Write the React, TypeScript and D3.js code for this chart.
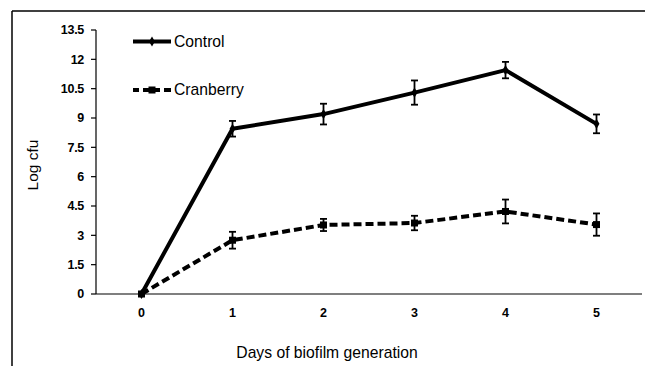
import React from "react";
import * as d3 from "d3";

const days = ["0", "1", "2", "3", "4", "5"];
const controlValues = [0, 8.45, 9.2, 10.3, 11.45, 8.7];
const controlErrors = [0, 0.4, 0.53, 0.62, 0.42, 0.48];
const cranberryValues = [0, 2.75, 3.53, 3.63, 4.22, 3.55];
const cranberryErrors = [0, 0.43, 0.31, 0.37, 0.61, 0.57];
const yTicks = [0, 1.5, 3, 4.5, 6, 7.5, 9, 10.5, 12, 13.5];
const seriesNames = ["Control", "Cranberry"];

const W = 645;
const H = 366;
const x0 = 96, x1 = 642, yTop = 30, yBottom = 294;

export default function App() {
  const x = d3.scaleBand<string>().domain(days).range([x0, x1]);
  const y = d3.scaleLinear().domain([0, 13.5]).range([yBottom, yTop]);
  const cx = (d: string) => (x(d) as number) + x.bandwidth() / 2;
  const line = d3
    .line<number>()
    .x((_, i) => cx(days[i]))
    .y((v) => y(v));

  const tickFont = "'Liberation Sans', Arial, sans-serif";

  const errorBars = (vals: number[], errs: number[], key: string) =>
    vals.map((v, i) => {
      if (errs[i] === 0) return null;
      const px = cx(days[i]);
      const ya = y(v + errs[i]);
      const yb = y(v - errs[i]);
      return (
        <g key={key + i} stroke="#000" strokeWidth={1.8}>
          <line x1={px} x2={px} y1={ya} y2={yb} />
          <line x1={px - 3.5} x2={px + 3.5} y1={ya} y2={ya} />
          <line x1={px - 3.5} x2={px + 3.5} y1={yb} y2={yb} />
        </g>
      );
    });

  return (
    <svg
      width={W}
      height={H}
      style={{ position: "absolute", left: 0, top: 0, background: "#fff" }}
    >
      {/* frame */}
      <line x1={12} x2={645} y1={11} y2={11} stroke="#000" strokeWidth={1.5} />
      <line x1={12} x2={12} y1={11} y2={366} stroke="#000" strokeWidth={1.5} />

      {/* y axis */}
      <line x1={x0} x2={x0} y1={yTop} y2={yBottom} stroke="#000" strokeWidth={1.2} />
      {yTicks.map((t) => (
        <g key={t}>
          <line x1={x0 - 5} x2={x0} y1={y(t)} y2={y(t)} stroke="#000" strokeWidth={1.2} />
          <text
            x={84}
            y={y(t)}
            dy="0.35em"
            textAnchor="end"
            fontFamily={tickFont}
            fontWeight="bold"
            fontSize={12.5}
            letterSpacing={-0.3}
          >
            {t}
          </text>
        </g>
      ))}
      {/* x axis */}
      <line x1={x0} x2={x1} y1={yBottom} y2={yBottom} stroke="#000" strokeWidth={1.2} />
      {days.map((d) => (
        <text
          key={d}
          x={cx(d)}
          y={313}
          dy="0.35em"
          textAnchor="middle"
          fontFamily={tickFont}
          fontWeight="bold"
          fontSize={12.5}
        >
          {d}
        </text>
      ))}

      {/* titles */}
      <text
        x={327}
        y={353}
        dy="0.35em"
        textAnchor="middle"
        fontFamily={tickFont}
        fontSize={15.7}
      >
        Days of biofilm generation
      </text>
      <text
        transform={`translate(33,165) rotate(-90)`}
        dy="0.35em"
        textAnchor="middle"
        fontFamily={tickFont}
        fontSize={15.5}
      >
        Log cfu
      </text>

      {/* series */}
      <path d={line(controlValues) as string} fill="none" stroke="#000" strokeWidth={4} strokeLinejoin="round" />
      <path
        d={line(cranberryValues) as string}
        fill="none"
        stroke="#000"
        strokeWidth={4}
        strokeDasharray="8,4"
      />
      {errorBars(controlValues, controlErrors, "c")}
      {errorBars(cranberryValues, cranberryErrors, "k")}
      {controlValues.map((v, i) => (
        <path
          key={"cm" + i}
          d={d3.symbol(d3.symbolDiamond, 30)() as string}
          transform={`translate(${cx(days[i])},${y(v)})`}
          fill="#000"
        />
      ))}
      {cranberryValues.map((v, i) => (
        <rect
          key={"km" + i}
          x={cx(days[i]) - 3.5}
          y={y(v) - 3.5}
          width={7}
          height={7}
          fill="#000"
        />
      ))}

      {/* legend */}
      <line x1={133} x2={171} y1={41.5} y2={41.5} stroke="#000" strokeWidth={4} />
      <path
        d={d3.symbol(d3.symbolDiamond, 30)() as string}
        transform="translate(152,41.5)"
        fill="#000"
      />
      <text x={174} y={41.5} dy="0.35em" fontFamily={tickFont} fontSize={15.7}>
        {seriesNames[0]}
      </text>
      <line x1={133} x2={139} y1={90} y2={90} stroke="#000" strokeWidth={4} />
      <line x1={164} x2={171} y1={90} y2={90} stroke="#000" strokeWidth={4} />
      <line x1={143} x2={160} y1={90} y2={90} stroke="#000" strokeWidth={4} />
      <rect x={148.5} y={86.5} width={7} height={7} fill="#000" />
      <text x={174} y={90} dy="0.35em" fontFamily={tickFont} fontSize={15.7}>
        {seriesNames[1]}
      </text>
    </svg>
  );
}
